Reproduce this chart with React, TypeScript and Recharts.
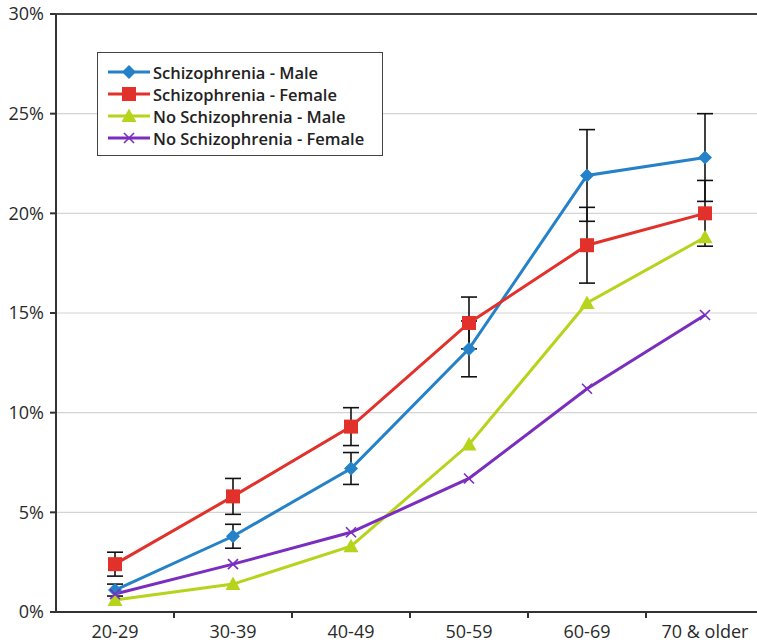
import { LineChart, Line, XAxis, YAxis, CartesianGrid, ErrorBar, Legend, ReferenceLine } from "recharts";

const categories = ["20-29", "30-39", "40-49", "50-59", "60-69", "70 & older"];
const szMale = [1.1, 3.8, 7.2, 13.2, 21.9, 22.8];
const szMaleErr = [0.3, 0.6, 0.8, 1.4, 2.3, 2.2];
const szFemale = [2.4, 5.8, 9.3, 14.5, 18.4, 20.0];
const szFemaleErr = [0.6, 0.9, 0.95, 1.3, 1.9, 1.65];
const noSzMale = [0.6, 1.4, 3.3, 8.4, 15.5, 18.8];
const noSzFemale = [0.9, 2.4, 4.0, 6.7, 11.2, 14.9];
const yTicks = [0, 5, 10, 15, 20, 25, 30];

const BLUE = "#2581c8";
const RED = "#e2302a";
const GREEN = "#b6d41c";
const PURPLE = "#7a2dbf";

const data = categories.map((c, i) => ({
  cat: c,
  szMale: szMale[i],
  szMaleErr: szMaleErr[i],
  szFemale: szFemale[i],
  szFemaleErr: szFemaleErr[i],
  noSzMale: noSzMale[i],
  noSzFemale: noSzFemale[i],
}));

const FONT = "'Open Sans', sans-serif";
const HALF_BAND = 59;

function Marker({ kind, cx, cy, color }: { kind: string; cx: number; cy: number; color: string }) {
  if (kind === "diamond") {
    const r = 7;
    return <polygon points={`${cx},${cy - r} ${cx + r},${cy} ${cx},${cy + r} ${cx - r},${cy}`} fill={color} />;
  }
  if (kind === "square") {
    const r = 7;
    return <rect x={cx - r} y={cy - r} width={r * 2} height={r * 2} fill={color} />;
  }
  if (kind === "triangle") {
    const r = 7.5;
    return <polygon points={`${cx},${cy - r} ${cx + r},${cy + r * 0.8} ${cx - r},${cy + r * 0.8}`} fill={color} />;
  }
  const r = 5;
  return (
    <g stroke={color} strokeWidth={1.6}>
      <line x1={cx - r} y1={cy - r} x2={cx + r} y2={cy + r} />
      <line x1={cx - r} y1={cy + r} x2={cx + r} y2={cy - r} />
    </g>
  );
}

const dotFor = (kind: string, color: string) => (props: any) =>
  <Marker key={`${kind}-${props.index}`} kind={kind} cx={props.cx} cy={props.cy} color={color} />;

const legendItems = [
  { label: "Schizophrenia - Male", color: BLUE, kind: "diamond" },
  { label: "Schizophrenia - Female", color: RED, kind: "square" },
  { label: "No Schizophrenia - Male", color: GREEN, kind: "triangle" },
  { label: "No Schizophrenia - Female", color: PURPLE, kind: "x" },
];

function LegendBox() {
  return (
    <div style={{ padding: "8px 0 0 10px" }}>
      {legendItems.map((it) => (
        <div key={it.label} style={{ display: "flex", alignItems: "center", height: 22 }}>
          <svg width={42} height={18} style={{ marginRight: 3 }}>
            <line x1={0} y1={9} x2={42} y2={9} stroke={it.color} strokeWidth={3} />
            <Marker kind={it.kind} cx={21} cy={9} color={it.color} />
          </svg>
          <span style={{ fontFamily: FONT, fontSize: 16.5, fontWeight: 600, color: "#222", whiteSpace: "nowrap" }}>{it.label}</span>
        </div>
      ))}
    </div>
  );
}

function XTick({ x, y, payload }: any) {
  return (
    <g>
      <line x1={x + HALF_BAND} y1={y} x2={x + HALF_BAND} y2={y + 6} stroke="#333" strokeWidth={2} />
      <text x={x} y={y + 26} textAnchor="middle" fontFamily={FONT} fontSize={18} fontWeight={500} fill="#2a2a2a">
        {payload.value}
      </text>
    </g>
  );
}

export default function App() {
  return (
    <div style={{ position: "absolute", left: 0, top: 0, width: 757, height: 644, background: "#fff", overflow: "hidden" }}>
      <LineChart width={757} height={644} data={data} margin={{ top: 14, right: -7, bottom: 0, left: 0 }}>
        <CartesianGrid vertical={false} stroke="#d4d4d4" strokeWidth={1.2} />
        <ReferenceLine y={30} stroke="#444" strokeWidth={2} />
        <XAxis
          dataKey="cat"
          height={32}
          padding={{ left: HALF_BAND, right: HALF_BAND }}
          tickSize={0}
          tickMargin={0}
          tickLine={false}
          axisLine={{ stroke: "#333", strokeWidth: 2 }}
          tick={<XTick />}
          interval={0}
        />
        <YAxis
          width={56}
          domain={[0, 30]}
          ticks={yTicks}
          tickFormatter={(v: number) => `${v}%`}
          tickSize={6}
          tickMargin={6}
          axisLine={{ stroke: "#333", strokeWidth: 2 }}
          tickLine={{ stroke: "#333", strokeWidth: 2 }}
          tick={{ fontFamily: FONT, fontSize: 18, fontWeight: 500, fill: "#2a2a2a" }}
        />
        <Legend
          layout="vertical"
          align="center"
          verticalAlign="middle"
          content={<LegendBox />}
          wrapperStyle={{ left: 97, top: 52, width: 286, height: 104, border: "1.5px solid #444", background: "#fff", boxSizing: "border-box" }}
        />
        <Line dataKey="szMale" stroke={BLUE} strokeWidth={3} dot={dotFor("diamond", BLUE)} isAnimationActive={false}>
          <ErrorBar dataKey="szMaleErr" width={8} stroke="#111" strokeWidth={1.6} direction="y" />
        </Line>
        <Line dataKey="szFemale" stroke={RED} strokeWidth={3} dot={dotFor("square", RED)} isAnimationActive={false}>
          <ErrorBar dataKey="szFemaleErr" width={8} stroke="#111" strokeWidth={1.6} direction="y" />
        </Line>
        <Line dataKey="noSzMale" stroke={GREEN} strokeWidth={3} dot={dotFor("triangle", GREEN)} isAnimationActive={false} />
        <Line dataKey="noSzFemale" stroke={PURPLE} strokeWidth={3} dot={dotFor("x", PURPLE)} isAnimationActive={false} />
      </LineChart>
    </div>
  );
}
